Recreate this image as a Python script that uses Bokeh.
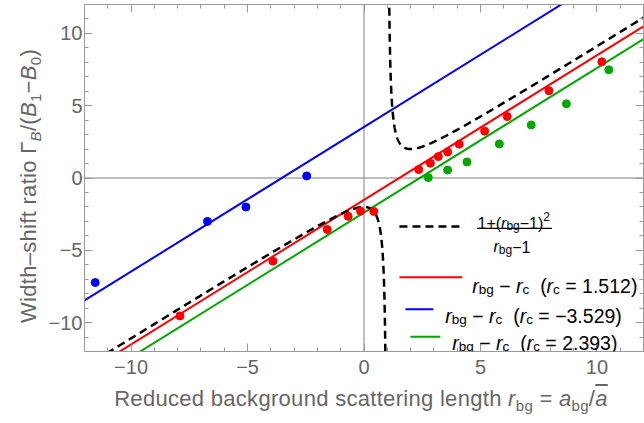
import numpy as np
from bokeh.plotting import figure
from bokeh.models import Range1d, FixedTicker, LinearAxis, Span, Label, Arrow, Div
from bokeh.layouts import row, column
from bokeh.embed import file_html
from bokeh.resources import INLINE

# ---------------- data ----------------
x_limits = [-12, 12]
y_limits = [-12, 12]
major_ticks = [-10, -5, 0, 5, 10]
minor_ticks = list(range(-12, 13))
tick_labels = {-10: "\u221210", -5: "\u22125", 0: "0", 5: "5", 10: "10"}

fit_rc = [1.512, -3.529, 2.393]
fit_rc_text = ["1.512", "\u22123.529", "2.393"]
fit_colors = ["#ff0000", "#0000ff", "#00a800"]

red_x = [-7.90, -3.91, -1.58, -0.68, -0.15, 0.42, 2.35, 2.85, 3.19, 3.59, 4.09, 5.18, 6.15, 7.94, 10.21]
red_y = [-9.54, -5.75, -3.56, -2.65, -2.29, -2.31, 0.58, 1.02, 1.48, 1.80, 2.34, 3.24, 4.25, 6.03, 8.04]
blue_x = [-11.54, -6.72, -5.07, -2.46]
blue_y = [-7.23, -3.00, -2.01, 0.14]
green_x = [2.76, 3.59, 4.42, 5.81, 7.18, 8.69, 10.51]
green_y = [0.03, 0.55, 1.11, 2.36, 3.67, 5.13, 7.48]
point_sets = [(red_x, red_y), (blue_x, blue_y), (green_x, green_y)]

# theory curve from its legend formula: (1 + (r_bg - 1)^2) / (r_bg - 1), pole at r_bg = 1
curve_pole = 1.0
def theory(r):
    return (1 + (r - curve_pole) ** 2) / (r - curve_pole)
r_left = curve_pole - np.geomspace(0.002, curve_pole - x_limits[0], 1200)[::-1]
r_right = curve_pole + np.geomspace(0.002, x_limits[1] - curve_pole, 1200)

# ---------------- layout ----------------
FONT = "Liberation Sans"
GRAY_TXT = "#666666"
FRAME = "#9a9a9a"
YDIV_W = 44
P_W, P_H = 600, 385
XDIV_H = 423 - P_H
MB_L, MB_R, MB_T, MB_B = 40, 1, 4, 34
FL, FR = YDIV_W + MB_L, YDIV_W + P_W - MB_R
FT, FB = MB_T, P_H - MB_B
SX = (FR - FL) / (x_limits[1] - x_limits[0])
SY = (FB - FT) / (y_limits[1] - y_limits[0])

def to_x(px):
    return x_limits[0] + (px - FL) / SX

def to_y(py):
    return y_limits[1] - (py - FT) / SY

REF_L, REF_R, REF_T, REF_B = 83.5, 643.5, 4.5, 350.8
def rx(xr):
    return FL + (xr - REF_L) * (FR - FL) / (REF_R - REF_L)

def ry(yr):
    return FT + (yr - REF_T) * (FB - FT) / (REF_B - REF_T)

p = figure(width=P_W, height=P_H,
           x_range=Range1d(*x_limits), y_range=Range1d(*y_limits),
           output_backend="svg", toolbar_location=None,
           min_border_left=MB_L, min_border_right=MB_R,
           min_border_top=MB_T, min_border_bottom=MB_B,
           background_fill_color="white", border_fill_color="white")
p.outline_line_color = None
p.xgrid.visible = False
p.ygrid.visible = False

def style_axis(ax, ticks, minors, tin, min_in):
    ax.ticker = FixedTicker(ticks=ticks, minor_ticks=minors)
    ax.axis_line_color = FRAME
    ax.major_tick_line_color = FRAME
    ax.minor_tick_line_color = FRAME
    ax.major_tick_in = tin
    ax.major_tick_out = 0
    ax.minor_tick_in = min_in
    ax.minor_tick_out = 0
    ax.major_label_text_font = FONT
    ax.major_label_text_font_size = "20px"
    ax.major_label_text_color = GRAY_TXT

for ax in list(p.below) + list(p.left):
    style_axis(ax, major_ticks, minor_ticks, 8, 4)
    ax.major_label_overrides = tick_labels
for ax in p.below:
    ax.major_label_standoff = 8
for ax in p.left:
    ax.major_label_standoff = 2

# frame ticks on the top and right edges (no labels): minor and major lengths
for side in ("above", "right"):
    a_min = LinearAxis()
    style_axis(a_min, [], minor_ticks, 0, 4)
    a_maj = LinearAxis()
    style_axis(a_maj, [], major_ticks, 0, 8)
    p.add_layout(a_min, side)
    p.add_layout(a_maj, side)

p.add_layout(Span(location=0, dimension="width", line_color="#a8a8a8", line_width=1.5, level="underlay"))
p.add_layout(Span(location=0, dimension="height", line_color="#808080", line_width=1, level="underlay"))

for rc, col in zip(fit_rc, fit_colors):
    xs = np.array(x_limits, dtype=float)
    p.line(xs, xs - rc, line_color=col, line_width=2)

for rr in (r_left, r_right):
    p.line(rr, theory(rr), line_color="black", line_width=2.5, line_dash="8 5")

for (xs, ys), col in zip(point_sets, fit_colors):
    p.scatter(xs, ys, size=8, fill_color=col, line_color=col, marker="circle")

# ---------------- rich text helpers (legend, inside the frame) ----------------
ADV = {' ': 278, '(': 333, ')': 333, '+': 584, '.': 278, '/': 278, '=': 584,
       '\u2212': 584, '\u2013': 556, '\u0393': 556, 'B': 667, 'R': 722, 'W': 944,
       'a': 556, 'b': 556, 'c': 500, 'd': 556, 'e': 556, 'f': 278, 'g': 556,
       'h': 556, 'i': 222, 'k': 500, 'l': 222, 'n': 556, 'o': 556, 'r': 333,
       's': 500, 't': 278, 'u': 556}

def tw(t, size):
    return sum(ADV.get(c, 556) for c in t) * size / 1000.0

def rich(pieces, x0, y0, color, align="left"):
    total = sum(tw(t, s) for t, s, st, dy in pieces)
    adv = -total / 2 if align == "center" else 0.0
    for t, s, st, dy in pieces:
        lead = len(t) - len(t.lstrip(" "))
        body = t.strip(" ")
        off = adv + tw(" " * lead, s)
        if body:
            p.add_layout(Label(x=to_x(x0 + off), y=to_y(y0 + dy), text=body,
                               text_font=FONT, text_font_size=f"{s}px",
                               text_font_style=st, text_color=color,
                               text_align="left", text_baseline="alphabetic"))
        adv += tw(t, s)

def seg(x1, x2, y, color, width, dash="solid"):
    p.add_layout(Arrow(end=None, start=None, x_start=to_x(x1), y_start=to_y(y),
                       x_end=to_x(x2), y_end=to_y(y), line_color=color,
                       line_width=width, line_dash=dash))

# legend
seg(rx(399), rx(460), ry(226), "black", 2.5, "8 5")
FS, FSS = 16, 12
rich([("1+(", FS, "normal", 0), ("r", FS, "italic", 0), ("bg", FSS, "normal", 2),
      ("\u22121)", FS, "normal", 0), ("2", FSS, "normal", -7)],
     rx(513.5), ry(223.5), "black", align="center")
seg(rx(476.7), rx(551.7), ry(228), "black", 1.2)
rich([("r", FS, "italic", 0), ("bg", FSS, "normal", 3), ("\u22121", FS, "normal", 0)],
     rx(511.7), ry(246.5), "black", align="center")

LG, LGS = 19.5, 13.5
legend_rows = [(399, 462, 276.7, 472, 285), (405, 433, 308.7, 445, 315), (410, 440, 336.2, 452, 342)]
for (s1, s2, sy_, tx, tb), col, rct in zip(legend_rows, fit_colors, fit_rc_text):
    seg(rx(s1), rx(s2), ry(sy_), col, 2)
    rich([("r", LG, "italic", 0), ("bg", LGS, "normal", 4),
          (" \u2212 ", LG, "normal", 0), ("r", LG, "italic", 0), ("c", LGS, "normal", 4),
          ("  (", LG, "normal", 0), ("r", LG, "italic", 0), ("c", LGS, "normal", 4),
          (" = " + rct + ")", LG, "normal", 0)],
         rx(tx), ry(tb), "black")

# ---------------- axis titles (HTML for sub-scripts) ----------------
AXF, AXS = 22, 15
base_css = (f"font-family:'{FONT}'; font-size:{AXF}px; line-height:26px; color:{GRAY_TXT}; "
            "white-space:nowrap; letter-spacing:0.3px;")
def sub(t, italic=False):
    inner = f"<i>{t}</i>" if italic else t
    return f'<span style="font-size:{AXS}px; position:relative; top:5px;">{inner}</span>'

x_title = ("Reduced background scattering length <i>r</i>" + sub("bg") + " = <i>a</i>" + sub("bg")
           + '/<i style="text-decoration:overline;">a</i>')
y_title = ("Width\u2013shift ratio \u0393" + sub("B", True) + "/(<i>B</i>" + sub("1")
           + "\u2212<i>B</i>" + sub("0") + ")")

XT_CENTER, XT_TOP = 361 - YDIV_W, 1
XT_W = 560
x_html = (f'<div style="{base_css} position:relative; left:{XT_CENTER - XT_W / 2:.1f}px; '
          f'top:{XT_TOP}px; width:{XT_W}px; text-align:center;">{x_title}</div>')

YT_CX, YT_CY, YT_L = 29.4, 186, 360
y_html = (f'<div style="{base_css} position:relative; left:{YT_CX - YT_L / 2:.1f}px; '
          f'top:{YT_CY - 13}px; width:{YT_L}px; height:26px; text-align:center; '
          f'transform:rotate(-90deg);">{y_title}</div>')

ydiv = Div(text=y_html, width=YDIV_W, height=423, margin=0)
xdiv = Div(text=x_html, width=P_W, height=XDIV_H, margin=0)

layout = row(ydiv, column(p, xdiv, spacing=0), spacing=0)

open("out.html", "w").write(file_html(layout, INLINE))
